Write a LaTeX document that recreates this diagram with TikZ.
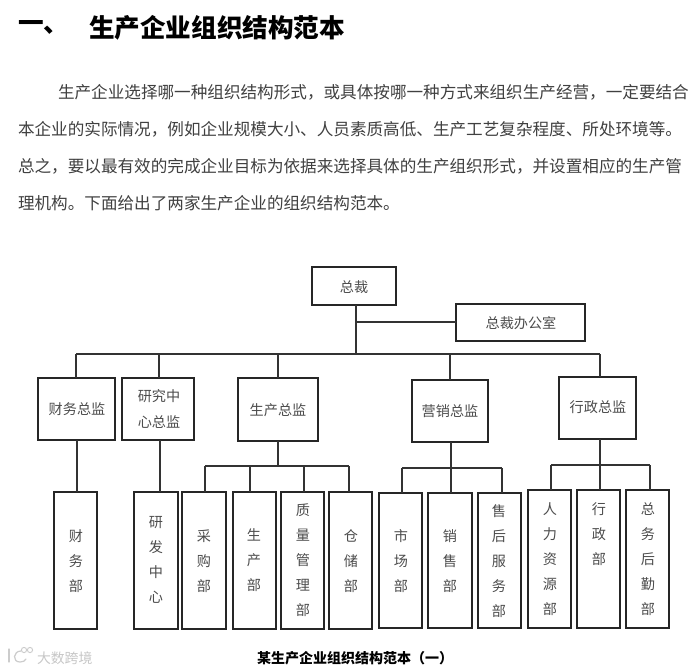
\documentclass[tikz,border=0pt]{standalone}
\usepackage{fontspec}
\setmainfont{Noto Sans CJK SC}
\begin{document}
\begin{tikzpicture}[x=0.75pt,y=-0.75pt,
  every node/.style={inner sep=0pt,outer sep=0pt},
  boxln/.style={draw=black!85,line width=0.9pt,fill=white},
  conn/.style={draw=black!80,line width=0.9pt},
  boxlabel/.style={text=black!70,font=\fontsize{10.6pt}{12pt}\selectfont,align=center},
  vlabel/.style={text=black!70,font=\fontsize{10.6pt}{18.75pt}\selectfont,align=center},
  para/.style={text=black!75,anchor=west,font=\fontsize{12.45pt}{14pt}\selectfont},
  titletext/.style={text=black,anchor=west,font=\fontsize{19.2pt}{22pt}\selectfont\bfseries},
  caption/.style={text=black,font=\fontsize{10.5pt}{12pt}\selectfont\bfseries},
  wm/.style={text=black!22,anchor=west,font=\fontsize{10.4pt}{13pt}\selectfont},
  wmicon/.style={draw=black!20,line width=0.9pt,line cap=round}]
\useasboundingbox (0,0) rectangle (698,671);
\fill[white] (0,0) rectangle (698,671);
% heading and paragraph
\node[titletext] (h1) at (18,27.5) {一、};
\node[titletext] (h2) at (89,27.5) {生产企业组织结构范本};
\node[para] (p1) at (58,92) {生产企业选择哪一种组织结构形式，或具体按哪一种方式来组织生产经营，一定要结合};
\node[para] (p2) at (18,129) {本企业的实际情况，例如企业规模大小、人员素质高低、生产工艺复杂程度、所处环境等。};
\node[para] (p3) at (18,166) {总之，要以最有效的完成企业目标为依据来选择具体的生产组织形式，并设置相应的生产管};
\node[para] (p4) at (18,203) {理机构。下面给出了两家生产企业的组织结构范本。};
% \obox{name}{x1}{y1}{x2}{y2}
\newcommand{\obox}[5]{\node[boxln,anchor=north west,minimum width={(#4-#2)*0.75pt},minimum height={(#5-#3)*0.75pt}] (#1) at (#2,#3) {};}
% junctions
\coordinate (trunkoff) at (356,322);
\coordinate (busc) at (356,354);
\coordinate (busl) at (76,354);
\coordinate (busr) at (600,354);
\coordinate (bf) at (159,354);
\coordinate (bp) at (278,354);
\coordinate (bm) at (450,354);
\coordinate (pj) at (278,466);
\coordinate (pl) at (205,466);
\coordinate (pa) at (250,466);
\coordinate (pb) at (304,466);
\coordinate (pr) at (349,466);
\coordinate (mj) at (451,468);
\coordinate (ml) at (402,468);
\coordinate (mr) at (502,468);
\coordinate (aj) at (600,465);
\coordinate (al) at (551,465);
\coordinate (ar) at (650,465);
% top boxes
\obox{ceo}{312}{267}{396}{305}
\obox{office}{456}{304}{585}{341}
\obox{fin}{38}{378}{115}{440}
\obox{rd}{122}{378}{194}{440}
\obox{prod}{238}{378}{318}{441}
\obox{mkt}{412}{380}{488}{442}
\obox{adm}{559}{377}{636}{439}
% lower boxes
\obox{d1}{54}{492}{97}{629}
\obox{d2}{134}{492}{178}{629}
\obox{d3}{182}{492}{226}{629}
\obox{d4}{233}{492}{276}{629}
\obox{d5}{281}{492}{324}{629}
\obox{d6}{329}{492}{372}{629}
\obox{d7}{379}{493}{422}{628}
\obox{d8}{428}{493}{472}{628}
\obox{d9}{478}{493}{521}{628}
\obox{d10}{528}{490}{571}{628}
\obox{d11}{577}{490}{620}{628}
\obox{d12}{626}{490}{669}{628}
% connectors
\draw[conn] (ceo.south -| busc) -- (busc);
\draw[conn] (trunkoff) -- (office.west |- trunkoff);
\draw[conn] (busl) -- (busr);
\draw[conn] (busl) -- (busl |- fin.north);
\draw[conn] (bf) -- (bf |- rd.north);
\draw[conn] (bp) -- (bp |- prod.north);
\draw[conn] (bm) -- (bm |- mkt.north);
\draw[conn] (busr) -- (busr |- adm.north);
\draw[conn] (fin.south -| 77,0) -- (d1.north -| 77,0);
\draw[conn] (rd.south -| 160,0) -- (d2.north -| 160,0);
\draw[conn] (prod.south) -- (pj);
\draw[conn] (pl) -- (pr);
\draw[conn] (pl) -- (pl |- d3.north);
\draw[conn] (pa) -- (pa |- d4.north);
\draw[conn] (pb) -- (pb |- d5.north);
\draw[conn] (pr) -- (pr |- d6.north);
\draw[conn] (mkt.south -| mj) -- (mj);
\draw[conn] (ml) -- (mr);
\draw[conn] (ml) -- (ml |- d7.north);
\draw[conn] (mj) -- (mj |- d8.north);
\draw[conn] (mr) -- (mr |- d9.north);
\draw[conn] (adm.south -| aj) -- (aj);
\draw[conn] (al) -- (ar);
\draw[conn] (al) -- (al |- d10.north);
\draw[conn] (aj) -- (aj |- d11.north);
\draw[conn] (ar) -- (ar |- d12.north);
% box labels
\node[boxlabel] (tceo) at (354,287) {总裁};
\node[boxlabel] (toffice) at (521,323) {总裁办公室};
\node[boxlabel] (tfin) at (77,409) {财务总监};
\node[boxlabel,font=\fontsize{10.6pt}{19pt}\selectfont] (trd) at (159,409) {研究中\\心总监};
\node[boxlabel] (tprod) at (278,410) {生产总监};
\node[boxlabel] (tmkt) at (450,411) {营销总监};
\node[boxlabel] (tadm) at (598,407) {行政总监};
\node[vlabel] (t1) at (76,561) {财\\务\\部};
\node[vlabel] (t2) at (156,560) {研\\发\\中\\心};
\node[vlabel] (t3) at (204,561) {采\\购\\部};
\node[vlabel] (t4) at (254,560) {生\\产\\部};
\node[vlabel] (t5) at (303,560) {质\\量\\管\\理\\部};
\node[vlabel] (t6) at (351,561) {仓\\储\\部};
\node[vlabel] (t7) at (401,561) {市\\场\\部};
\node[vlabel] (t8) at (450,561) {销\\售\\部};
\node[vlabel] (t9) at (499,561) {售\\后\\服\\务\\部};
\node[vlabel] (t10) at (550,559) {人\\力\\资\\源\\部};
\node[vlabel] (t11) at (599,534) {行\\政\\部};
\node[vlabel] (t12) at (648,559) {总\\务\\后\\勤\\部};
\node[caption] (cap) at (355,658) {某生产企业组织结构范本（一）};
% watermark
\node[wm] (wmt) at (37,658) {大数跨境};
\draw[wmicon] (9,649) -- (9,662);
\draw[wmicon] (21,651) .. controls (13,651) and (12,662) .. (20,662) .. controls (23,662) and (25,661) .. (26,659);
\draw[wmicon,line width=0.7pt] (24,650) circle (2.6);
\draw[wmicon,line width=0.7pt] (30,650) circle (2.6);
\end{tikzpicture}
\end{document}
